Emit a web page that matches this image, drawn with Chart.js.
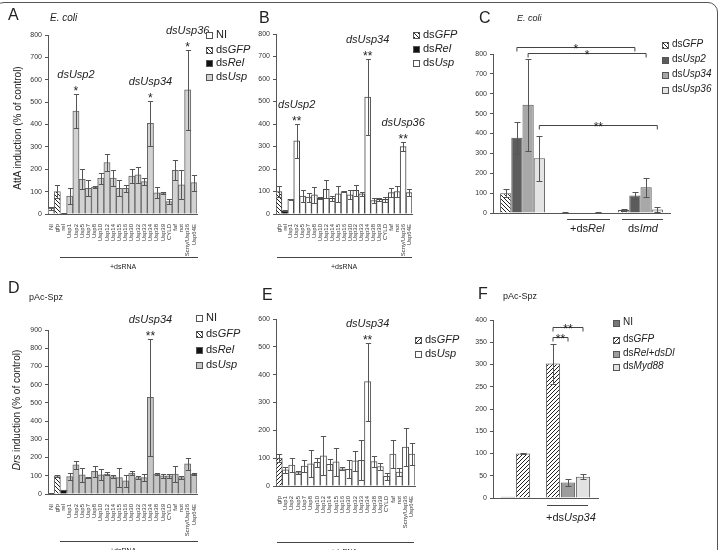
<!DOCTYPE html>
<html>
<head>
<meta charset="utf-8">
<script src="https://cdn.jsdelivr.net/npm/chart.js@4.4.0/dist/chart.umd.min.js"></script>
<style>
  body { margin: 0; width: 720px; height: 550px; overflow: hidden; background: #fff; position: relative;
         font-family: Arial, "Liberation Sans", sans-serif; color: #222; }
  #frame { position: absolute; left: -6px; top: 2px; width: 724px; height: 600px; box-sizing: border-box;
           border: 1px solid #555; border-radius: 10px; }
  canvas { position: absolute; }
  .t { position: absolute; white-space: nowrap; line-height: 1; }
  .letter { font-size: 16px; }
  .sub { font-size: 9px; }
  .leg { font-size: 11px; }
  .sw { position: absolute; width: 5px; height: 5px; border: 1px solid #555; }
  .rule { position: absolute; height: 1px; background: #444; }
  .ytitle { position: absolute; font-size: 10px; white-space: nowrap; transform: translate(-50%, -50%) rotate(-90deg); }
</style>
</head>
<body>
<div id="frame"></div>
<script>
// ---- data ----
const labelsA = ['NI','gfp','rel','Usp1','Usp2','Usp5','Usp7','Usp8','Usp10','Usp12','Usp14','Usp15','Usp16','Usp30','Usp32','Usp33','Usp34','Usp38','Usp39','CYLD','faf','not','Scny/Usp36','Usp64E'];
const valuesA = [25,100,3,80,460,155,115,120,160,230,160,115,115,170,175,145,405,95,95,55,195,130,555,140];
const errorsA = [8,28,2,35,75,45,35,3,25,40,35,35,15,30,35,15,100,25,5,10,45,65,180,35];

const labelsB = labelsA.slice(1);
const valuesB = [100,15,65,325,80,75,85,70,110,70,90,100,85,105,90,520,60,65,65,95,100,300,95];
const errorsB = [25,2,3,75,25,20,35,5,40,10,35,3,20,25,10,170,10,5,10,20,25,20,15];

const groupsC = ['', '+dsRel', 'dsImd'];
const seriesC = ['dsGFP','dsUsp2','dsUsp34','dsUsp36'];
const gfpC = [100, 3, 15],   gfpErrC = [20, 1, 4];
const usp2C = [378, 0, 88],  usp2ErrC = [80, 0, 20];
const usp34C = [545, 0, 130], usp34ErrC = [232, 0, 48];
const usp36C = [275, 2, 17],  usp36ErrC = [112, 1, 12];

const labelsD = labelsA;
const valuesD = [3,100,22,95,160,105,90,125,105,110,95,90,72,115,90,90,530,110,100,100,110,90,165,108];
const errorsD = [1,5,2,18,22,37,3,30,30,8,8,50,35,12,8,18,320,5,12,12,42,10,32,6];

const labelsE = labelsB.filter(l => l !== 'rel');
const valuesE = [100,58,75,48,72,80,85,108,78,87,62,60,90,92,375,88,70,35,115,50,140,115];
const errorsE = [15,10,25,5,20,48,15,70,20,50,5,33,37,72,140,20,12,12,52,15,68,38];

const labelsF = ['', 'NI', 'dsGFP', '', 'dsGFP', 'dsRel+dsDl', 'dsMyd88', ''];
const valuesF = [null, 3, 100, null, 302, 35, 48, null];
const errorsF = [0, 0, 2, 0, 45, 7, 5, 0];

const ticksA = { max: 800, step: 100 };
const ticksC = { max: 800, step: 100 };
const ticksD = { max: 900, step: 100 };
const ticksE = { max: 600, step: 100 };
const ticksF = { max: 400, step: 50 };

const marksA = [['Usp2','dsUsp2','*'], ['Usp34','dsUsp34','*'], ['Scny/Usp36','dsUsp36','*']];
const marksB = [['Usp2','dsUsp2','**'], ['Usp34','dsUsp34','**'], ['Scny/Usp36','dsUsp36','**']];
const marksD = [['Usp34','dsUsp34','**']];
const marksE = [['Usp34','dsUsp34','**']];
// brackets: [dataset, index] to [dataset, index], level, text
const bracketsC = [[[1,0],[1,2],835,'*'], [[2,0],[2,2],805,'*'], [[3,0],[3,2],443,'**']];
const bracketsF = [[[0,4],[0,6],384,'**'], [[0,4],[0,5],362,'**']];

// ---- helpers ----
function hatch(dir) {
  const p = document.createElement('canvas'); p.width = 4; p.height = 4;
  const g = p.getContext('2d');
  g.fillStyle = '#fff'; g.fillRect(0, 0, 4, 4);
  g.strokeStyle = '#222'; g.lineWidth = 1;
  g.beginPath();
  if (dir > 0) { g.moveTo(-1,5); g.lineTo(5,-1); g.moveTo(-1,1); g.lineTo(1,-1); g.moveTo(3,5); g.lineTo(5,3); }
  else { g.moveTo(-1,-1); g.lineTo(5,5); g.moveTo(-1,3); g.lineTo(1,5); g.moveTo(3,-1); g.lineTo(5,1); }
  g.stroke();
  return g.createPattern(p, 'repeat');
}
const hatchBack = hatch(-1), hatchFwd = hatch(1);

function fillFor(label, usp, pat) {
  if (label === 'NI') return '#fff';
  if (label === 'gfp') return pat;
  if (label === 'rel') return '#111';
  return usp;
}

const errorBars = {
  id: 'errorBars',
  afterDatasetsDraw(chart) {
    const ctx = chart.ctx, y = chart.scales.y;
    chart.data.datasets.forEach((ds, di) => {
      if (!ds.errors) return;
      chart.getDatasetMeta(di).data.forEach((bar, i) => {
        const v = ds.data[i], e = ds.errors[i];
        if (v == null || !e) return;
        const hi = Math.round(y.getPixelForValue(v + e)) + 0.5;
        const lo = Math.round(y.getPixelForValue(Math.max(0, v - e))) + 0.5;
        const x = Math.round(bar.x) + 0.5;
        const w = Math.max(1.5, Math.min(3, bar.width / 2 - 0.5));
        ctx.save();
        ctx.strokeStyle = '#555'; ctx.lineWidth = 1;
        ctx.beginPath();
        ctx.moveTo(x, hi); ctx.lineTo(x, lo);
        ctx.moveTo(x - w, hi); ctx.lineTo(x + w, hi);
        ctx.moveTo(x - w, lo); ctx.lineTo(x + w, lo);
        ctx.stroke();
        ctx.restore();
      });
    });
  }
};

function marks(items) {
  return {
    id: 'marks',
    afterDatasetsDraw(chart) {
      const ctx = chart.ctx, ds = chart.data.datasets[0];
      items.forEach(([cat, label, stars]) => {
        const i = chart.data.labels.indexOf(cat);
        const bar = chart.getDatasetMeta(0).data[i];
        const top = chart.scales.y.getPixelForValue(ds.data[i] + ds.errors[i]);
        ctx.save();
        ctx.fillStyle = '#222'; ctx.textAlign = 'center';
        ctx.font = '12px Arial';
        ctx.fillText(stars, bar.x, top + 1);
        ctx.font = 'italic 11px Arial';
        ctx.fillText(label, bar.x, top - 16);
        ctx.restore();
      });
    }
  };
}

function brackets(items) {
  return {
    id: 'brackets',
    afterDatasetsDraw(chart) {
      const ctx = chart.ctx;
      items.forEach(([a, b, level, text]) => {
        const xa = chart.getDatasetMeta(a[0]).data[a[1]].x;
        const xb = chart.getDatasetMeta(b[0]).data[b[1]].x;
        const y = Math.round(chart.scales.y.getPixelForValue(level)) + 0.5;
        ctx.save();
        ctx.strokeStyle = '#444'; ctx.lineWidth = 1;
        ctx.beginPath();
        ctx.moveTo(xa, y + 4); ctx.lineTo(xa, y); ctx.lineTo(xb, y); ctx.lineTo(xb, y + 4);
        ctx.stroke();
        ctx.fillStyle = '#222'; ctx.textAlign = 'center'; ctx.font = '12px Arial';
        ctx.fillText(text, (xa + xb) / 2, y + 5);
        ctx.restore();
      });
    }
  };
}

function panel(cfg) {
  const c = document.createElement('canvas');
  c.width = cfg.w; c.height = cfg.h;
  c.style.left = cfg.x + 'px'; c.style.top = cfg.y + 'px';
  c.style.width = cfg.w + 'px'; c.style.height = cfg.h + 'px';
  document.body.appendChild(c);
  return new Chart(c, {
    type: 'bar',
    data: { labels: cfg.labels, datasets: cfg.datasets },
    options: {
      responsive: false, animation: false, devicePixelRatio: 1,
      layout: { padding: { left: 0, top: cfg.area.t - cfg.y, right: cfg.x + cfg.w - cfg.area.r, bottom: 0 } },
      plugins: { legend: { display: false }, tooltip: { enabled: false } },
      scales: {
        x: {
          offset: cfg.offset !== false,
          grid: { display: false },
          border: { color: '#555' },
          ticks: { display: !!cfg.showTicks, minRotation: 90, maxRotation: 90, autoSkip: false,
                   font: { size: 6, family: 'Arial' }, color: '#333', padding: 2 },
          afterFit: s => { s.height = cfg.y + cfg.h - cfg.area.b; }
        },
        y: {
          min: 0, max: cfg.ticks.max,
          ticks: { stepSize: cfg.ticks.step, font: { size: 7, family: 'Arial' }, color: '#333', padding: 3 },
          grid: { drawOnChartArea: false, tickLength: 3, color: '#555' },
          border: { color: '#555' },
          afterFit: s => { s.width = cfg.area.l - cfg.x; }
        }
      }
    },
    plugins: [errorBars].concat(cfg.plugins || [])
  });
}

function txt(x, y, html, cls, extra) {
  const d = document.createElement('div');
  d.className = 't ' + (cls || '');
  d.style.left = x + 'px'; d.style.top = y + 'px';
  if (extra) d.style.cssText += extra;
  d.innerHTML = html;
  document.body.appendChild(d);
}
function rule(x1, x2, y) {
  const d = document.createElement('div');
  d.className = 'rule';
  d.style.left = x1 + 'px'; d.style.top = y + 'px'; d.style.width = (x2 - x1) + 'px';
  document.body.appendChild(d);
}
function legend(x, ys, entries, size) {
  entries.forEach(([html, bg], k) => {
    const s = document.createElement('div');
    s.className = 'sw';
    s.style.left = x + 'px'; s.style.top = (ys[k] - 3) + 'px'; s.style.background = bg;
    document.body.appendChild(s);
    txt(x + 10, ys[k] - size / 2 - 1, html, 'leg', 'font-size:' + size + 'px');
  });
}
function ytitle(x, y, html) {
  const d = document.createElement('div');
  d.className = 'ytitle';
  d.style.left = x + 'px'; d.style.top = y + 'px';
  d.innerHTML = html;
  document.body.appendChild(d);
}

const USP_A = '#d2d2d2', USP_D = '#c6c6c6';
const CSS_HATCH_B = 'repeating-linear-gradient(45deg,#222 0 1px,#fff 1px 3px)';
const CSS_HATCH_F = 'repeating-linear-gradient(-45deg,#222 0 1px,#fff 1px 3px)';

// ---- A ----
panel({
  x: 0, y: 0, w: 250, h: 275, area: { l: 48, t: 35, r: 197, b: 214 }, ticks: ticksA, showTicks: true,
  labels: labelsA,
  datasets: [{ data: valuesA, errors: errorsA, backgroundColor: labelsA.map(l => fillFor(l, USP_A, hatchBack)),
               borderColor: '#666', borderWidth: 1, barPercentage: 1, categoryPercentage: 1 }],
  plugins: [marks(marksA)]
});
// ---- B ----
panel({
  x: 250, y: 0, w: 220, h: 275, area: { l: 276, t: 34, r: 412, b: 214 }, ticks: ticksA, showTicks: true,
  labels: labelsB,
  datasets: [{ data: valuesB, errors: errorsB, backgroundColor: labelsB.map(l => fillFor(l, '#fff', hatchBack)),
               borderColor: '#444', borderWidth: 1, barPercentage: 1, categoryPercentage: 1 }],
  plugins: [marks(marksB)]
});
// ---- C ----
const colorsC = [hatchBack, '#5c5c5c', '#a8a8a8', '#e4e4e4'];
const valsC = [gfpC, usp2C, usp34C, usp36C], errsC = [gfpErrC, usp2ErrC, usp34ErrC, usp36ErrC];
panel({
  x: 470, y: 0, w: 248, h: 275, area: { l: 493, t: 54, r: 670, b: 213 }, ticks: ticksC,
  labels: groupsC,
  datasets: seriesC.map((s, k) => ({ label: s, data: valsC[k], errors: errsC[k], backgroundColor: colorsC[k],
               borderColor: '#555', borderWidth: 1, barPercentage: 1, categoryPercentage: 0.76 })),
  plugins: [brackets(bracketsC)]
});
// ---- D ----
panel({
  x: 0, y: 275, w: 250, h: 275, area: { l: 48, t: 330, r: 197, b: 494 }, ticks: ticksD, showTicks: true,
  labels: labelsD,
  datasets: [{ data: valuesD, errors: errorsD, backgroundColor: labelsD.map(l => fillFor(l, USP_D, hatchBack)),
               borderColor: '#666', borderWidth: 1, barPercentage: 1, categoryPercentage: 1 }],
  plugins: [marks(marksD)]
});
// ---- E ----
panel({
  x: 250, y: 275, w: 220, h: 275, area: { l: 276, t: 319, r: 415, b: 486 }, ticks: ticksE, showTicks: true,
  labels: labelsE,
  datasets: [{ data: valuesE, errors: errorsE, backgroundColor: labelsE.map(l => fillFor(l, '#fff', hatchFwd)),
               borderColor: '#555', borderWidth: 1, barPercentage: 1, categoryPercentage: 1 }],
  plugins: [marks(marksE)]
});
// ---- F ----
const fillF = { 'NI': '#777', 'dsGFP': hatchFwd, 'dsRel+dsDl': '#9c9c9c', 'dsMyd88': '#e2e2e2', '': '#fff' };
panel({
  x: 470, y: 275, w: 248, h: 275, area: { l: 493, t: 320, r: 598, b: 498 }, ticks: ticksF, offset: false,
  labels: labelsF,
  datasets: [{ data: valuesF, errors: errorsF, backgroundColor: labelsF.map(l => fillF[l]),
               borderColor: '#555', borderWidth: 1, barPercentage: 0.95, categoryPercentage: 1 }],
  plugins: [brackets(bracketsF)]
});

// ---- text overlays ----
txt(8, 7, 'A', 'letter'); txt(50, 13, '<i>E. coli</i>', 'sub', 'font-size:10px');
txt(259, 10, 'B', 'letter');
txt(479, 10, 'C', 'letter'); txt(517, 14, '<i>E. coli</i>', 'sub');
txt(8, 280, 'D', 'letter'); txt(29, 293, 'pAc-Spz', 'sub');
txt(262, 287, 'E', 'letter');
txt(478, 286, 'F', 'letter'); txt(503, 292, 'pAc-Spz', 'sub');

ytitle(17, 128, 'AttA induction (% of control)');
ytitle(16, 410, '<i>Drs</i> induction (% of control)');

legend(206, [35, 50, 63, 77], [['NI', '#fff'], ['ds<i>GFP</i>', CSS_HATCH_B], ['ds<i>Rel</i>', '#111'], ['ds<i>Usp</i>', USP_A]], 11);
legend(413, [35, 49, 63], [['ds<i>GFP</i>', CSS_HATCH_B], ['ds<i>Rel</i>', '#111'], ['ds<i>Usp</i>', '#fff']], 11);
legend(662, [45, 60, 75, 90], [['ds<i>GFP</i>', CSS_HATCH_B], ['ds<i>Usp2</i>', '#5c5c5c'], ['ds<i>Usp34</i>', '#a8a8a8'], ['ds<i>Usp36</i>', '#e4e4e4']], 10);
legend(196, [318, 334, 350, 365], [['NI', '#fff'], ['ds<i>GFP</i>', CSS_HATCH_B], ['ds<i>Rel</i>', '#111'], ['ds<i>Usp</i>', USP_D]], 11);
legend(415, [340, 354], [['ds<i>GFP</i>', CSS_HATCH_F], ['ds<i>Usp</i>', '#fff']], 11);
legend(613, [323, 340, 354, 367], [['NI', '#777'], ['ds<i>GFP</i>', CSS_HATCH_F], ['ds<i>Rel+dsDl</i>', '#9c9c9c'], ['ds<i>Myd88</i>', '#e2e2e2']], 10);

rule(60, 198, 257); txt(110, 263, '+dsRNA', 'sub', 'font-size:7px');
rule(277, 412, 257); txt(331, 263, '+dsRNA', 'sub', 'font-size:7px');
rule(60, 198, 541); txt(110, 547, '+dsRNA', 'sub', 'font-size:7px');
rule(277, 414, 542); txt(331, 548, '+dsRNA', 'sub', 'font-size:7px');

rule(567, 610, 219); txt(570, 223, '+ds<i>Rel</i>', 'leg');
rule(622, 663, 219); txt(628, 223, 'ds<i>Imd</i>', 'leg');
rule(547, 588, 505); txt(546, 512, '+ds<i>Usp34</i>', 'leg');
</script>
</body>
</html>
